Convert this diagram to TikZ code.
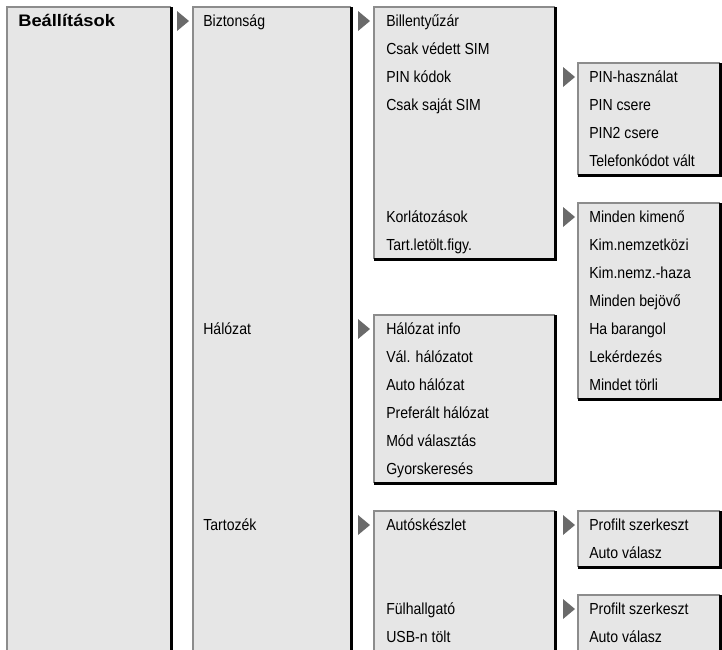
\documentclass[tikz,border=0pt]{standalone}
\usepackage{fontspec}
\setmainfont{Liberation Sans}[FakeStretch=0.88]
\newfontfamily\headfont{Liberation Sans}[FakeStretch=1.1]
\usetikzlibrary{positioning}
\definecolor{menufill}{HTML}{E6E6E6}
\definecolor{menuedge}{HTML}{8C8C8C}
\definecolor{menutip}{HTML}{6A6A6A}
% menu box: left, right, first row, number of rows
\newcommand{\menubox}[4]{%
	\pgfmathsetmacro\mtop{7+28*#3}%
	\pgfmathsetmacro\mbot{7+28*(#3+#4)}%
	\fill[menufill] (#1,\mtop) rectangle (#2,\mbot);
	\draw[menuedge,line width=1.5pt] (#1,\mbot) -- (#1,\mtop) -- (#2,\mtop);
	\draw[black,line width=2.25pt] (#2,\mtop) -- (#2,\mbot) -- (#1,\mbot);
}
% submenu marker: left x, row
\newcommand{\menutip}[2]{%
	\pgfmathsetmacro\mmid{21+28*#2}%
	\fill[menutip] (#1,\mmid-10) -- (#1+12,\mmid) -- (#1,\mmid+10) -- cycle;
}

\begin{document}
\begin{tikzpicture}[x=0.75pt,y=-0.75pt,
		item/.style={anchor=base west,inner sep=0pt,font=\fontsize{12}{14}\selectfont},
		head/.style={anchor=base west,inner sep=0pt,font=\headfont\bfseries\fontsize{12.5}{14}\selectfont}]
		\clip (0,0) rectangle (722,650);
		% Menu boxes
		\menubox{7}{171}{0}{24}
		\menubox{193}{351}{0}{24}
		\menubox{374}{555}{0}{9}
		\menubox{374}{555}{11}{6}
		\menubox{374}{555}{18}{6}
		\menubox{578}{720}{2}{4}
		\menubox{578}{720}{7}{7}
		\menubox{578}{720}{18}{2}
		\menubox{578}{720}{21}{3}
		% Submenu markers
		\menutip{177}{0}
		\foreach \r in {0,11,18} \menutip{358}{\r};
		\foreach \r in {2,7,18,21} \menutip{563}{\r};
		% Main menu
		\node[head] (beall) at (18,26.5) {Beállítások};
		\node[item] (bizt) at (203,26.5) {Biztonság};
		\node[item] (halo) at (203,{26.5+28*11}) {Hálózat};
		\node[item] (tart) at (203,{26.5+28*18}) {Tartozék};
		% Biztonság submenu
		\foreach \txt [count=\i from 0] in {Billentyűzár, Csak védett SIM, PIN kódok, Csak saját SIM}
			\node[item] (bizt-\i) at (386,{26.5+28*\i}) {\txt};
		\node[item] (korl) at (386,{26.5+28*7}) {Korlátozások};
		\node[item] (letolt) at (386,{26.5+28*8}) {Tart.letölt.figy.};
		% Hálózat submenu
		\foreach \txt [count=\i from 11] in {Hálózat info, Vál. hálózatot, Auto hálózat, Preferált hálózat, Mód választás, Gyorskeresés}
			\node[item] (halo-\i) at (386,{26.5+28*\i}) {\txt};
		% Tartozék submenu
		\node[item] (auto) at (386,{26.5+28*18}) {Autóskészlet};
		\node[item] (fulh) at (386,{26.5+28*21}) {Fülhallgató};
		\node[item] (usb) at (386,{26.5+28*22}) {USB-n tölt};
		% PIN kódok submenu
		\foreach \txt [count=\i from 2] in {PIN-használat, PIN csere, PIN2 csere, Telefonkódot vált}
			\node[item] (pin-\i) at (589,{26.5+28*\i}) {\txt};
		% Korlátozások submenu
		\foreach \txt [count=\i from 7] in {Minden kimenő, Kim.nemzetközi, Kim.nemz.-haza, Minden bejövő, Ha barangol, Lekérdezés, Mindet törli}
			\node[item] (korl-\i) at (589,{26.5+28*\i}) {\txt};
		% Autóskészlet and Fülhallgató submenus
		\foreach \r/\nm in {18/auto, 21/fulh} {
			\node[item] (\nm-prof) at (589,{26.5+28*\r}) {Profilt szerkeszt};
			\node[item] (\nm-vala) at (589,{26.5+28*(\r+1)}) {Auto válasz};
		}
	\end{tikzpicture}
\end{document}
